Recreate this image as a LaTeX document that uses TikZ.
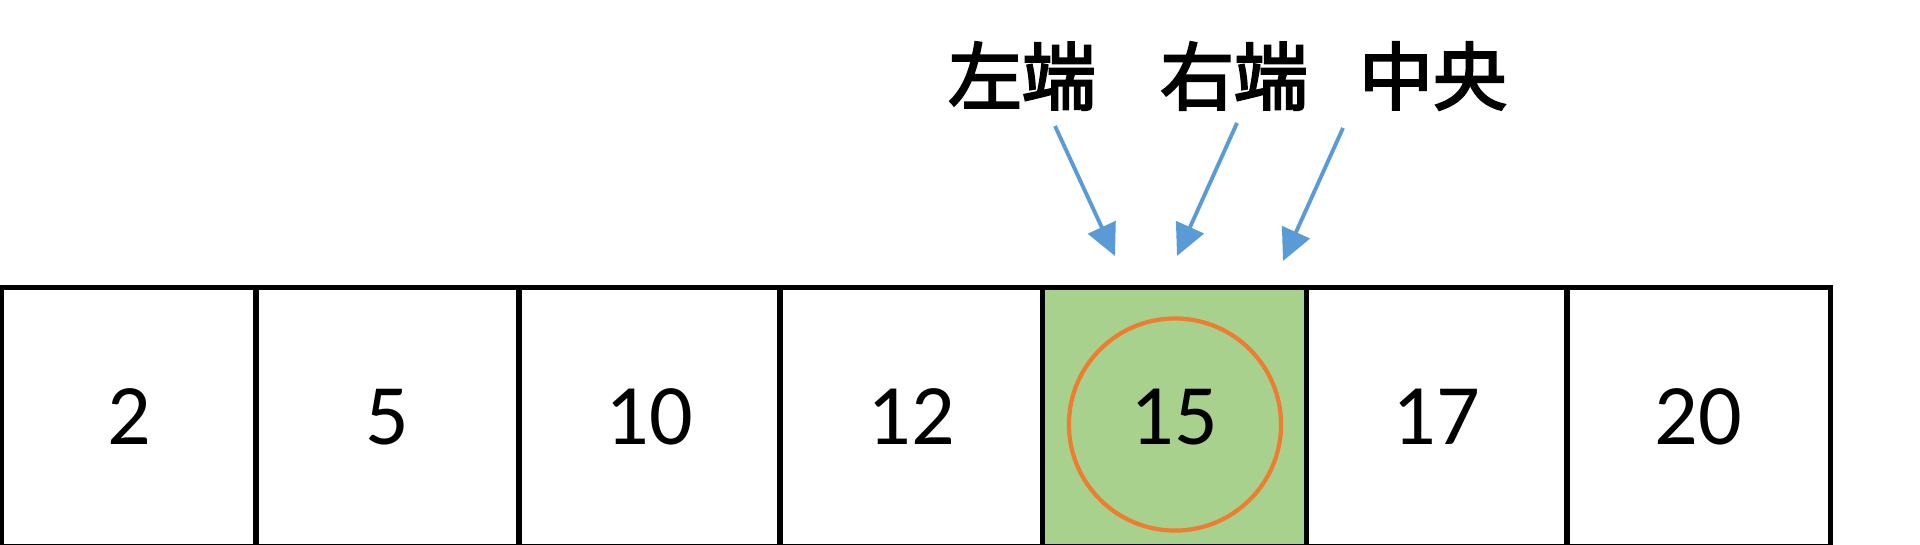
\documentclass[tikz,border=0pt]{standalone}
\usepackage{fontspec}
\setmainfont{Carlito}
\newfontfamily\cjk[FakeBold=3]{Noto Sans CJK JP}
\usetikzlibrary{arrows.meta}
\definecolor{cellgreen}{HTML}{A9D18E}
\definecolor{ringorange}{HTML}{ED7D31}
\definecolor{arrowblue}{HTML}{5B9BD5}
\begin{document}
\begin{tikzpicture}[x=0.01cm,y=-0.01cm,
  cell/.style={draw=black, line width=1.4pt, minimum height=2.58cm, inner sep=0pt,
               font=\fontsize{24.5}{28}\selectfont},
  lbl/.style={font=\cjk\fontsize{21}{25}\selectfont, inner sep=0pt},
  pointer/.style={draw=arrowblue, line width=1.1pt, -{Triangle[length=9pt,width=8.5pt]}},
  ringstyle/.style={draw=ringorange, line width=1.2pt, circle, minimum size=2.12cm, inner sep=0pt}]
\useasboundingbox[fill=white] (0,0) rectangle (1920,544);
% cells
\node[cell, minimum width=2.54cm] (c1) at (129,417) {2};
\node[cell, minimum width=2.63cm] (c2) at (387.5,417) {5};
\node[cell, minimum width=2.61cm] (c3) at (649.5,417) {10};
\node[cell, minimum width=2.63cm] (c4) at (911.5,417) {12};
\node[cell, minimum width=2.61cm] (c6) at (1436.5,417) {17};
\node[cell, minimum width=2.63cm] (c7) at (1698.5,417) {20};
\node[cell, minimum width=2.63cm, fill=cellgreen] (c5) at (1174.5,417) {15};
\node[ringstyle] (ring) at (1175,424.5) {};
% labels
\node[lbl] (lft) at (1022,76) {左端};
\node[lbl] (rgt) at (1234,76) {右端};
\node[lbl] (mid) at (1433,76) {中央};
% arrows
\coordinate (s1) at (1055,126);
\coordinate (t1) at (1115,256);
\coordinate (s2) at (1237,123);
\coordinate (t2) at (1177,256);
\coordinate (s3) at (1343,128);
\coordinate (t3) at (1283,261);
\draw[pointer] (s1) -- (t1);
\draw[pointer] (s2) -- (t2);
\draw[pointer] (s3) -- (t3);
\end{tikzpicture}
\end{document}
